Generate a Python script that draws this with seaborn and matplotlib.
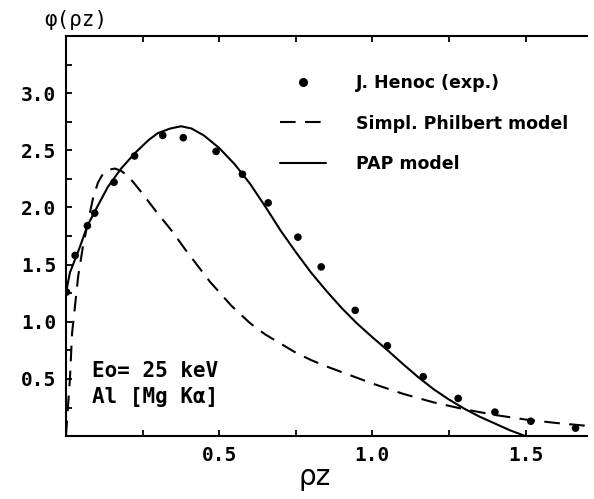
import numpy as np
import pandas as pd
import matplotlib
matplotlib.use("Agg")
import matplotlib.pyplot as plt
from matplotlib.lines import Line2D
import seaborn as sns

# experimental points (J. Henoc)
exp_x = [0.002, 0.03, 0.07, 0.094, 0.157, 0.224, 0.316, 0.383, 0.49, 0.576,
         0.66, 0.757, 0.833, 0.944, 1.049, 1.166, 1.28, 1.40, 1.517, 1.663]
exp_y = [1.26, 1.58, 1.84, 1.95, 2.22, 2.45, 2.63, 2.61, 2.49, 2.29,
         2.04, 1.74, 1.48, 1.10, 0.79, 0.52, 0.33, 0.21, 0.13, 0.07]

# simplified Philibert model (dashed)
phil_x = [0.0, 0.013, 0.02, 0.03, 0.04, 0.055, 0.07, 0.09, 0.105, 0.12, 0.14,
          0.16, 0.18, 0.2, 0.22, 0.25, 0.29, 0.35, 0.39, 0.47, 0.54, 0.6, 0.65,
          0.7, 0.75, 0.8, 0.85, 0.9, 1.0, 1.1, 1.2, 1.3, 1.4, 1.5, 1.6, 1.7]
phil_y = [0.0, 0.5, 0.9, 1.15, 1.4, 1.65, 1.85, 2.10, 2.22, 2.29, 2.33,
          2.34, 2.32, 2.28, 2.22, 2.12, 1.98, 1.78, 1.63, 1.35, 1.14, 0.99, 0.89,
          0.81, 0.73, 0.665, 0.61, 0.56, 0.46, 0.37, 0.295, 0.235, 0.185, 0.145,
          0.115, 0.09]

# PAP model (solid)
pap_x = [0.0, 0.013, 0.045, 0.07, 0.105, 0.137, 0.18, 0.227, 0.27, 0.3, 0.34,
         0.376, 0.41, 0.45, 0.5, 0.55, 0.6, 0.65, 0.7, 0.75, 0.8, 0.85, 0.9,
         0.95, 1.0, 1.05, 1.1, 1.15, 1.2, 1.25, 1.3, 1.35, 1.4, 1.45, 1.5]
pap_y = [1.25, 1.43, 1.65, 1.84, 2.02, 2.18, 2.34, 2.48, 2.59, 2.65, 2.69,
         2.71, 2.69, 2.63, 2.52, 2.38, 2.21, 2.01, 1.80, 1.61, 1.43, 1.27, 1.12,
         0.985, 0.865, 0.75, 0.63, 0.515, 0.41, 0.32, 0.24, 0.17, 0.11, 0.05, 0.0]

labels = ["J. Henoc (exp.)", "Simpl. Philbert model", "PAP model"]

sns.set_style("ticks", {"text.color": "black", "axes.labelcolor": "black",
                        "xtick.color": "black", "ytick.color": "black",
                        "axes.edgecolor": "black"})
mono = "DejaVu Sans Mono"
dash = (0, (7.5, 4.5))

fig = plt.figure(figsize=(5.94, 4.99), dpi=100)
ax = fig.add_axes([0.111, 0.126, 0.877, 0.802])

sns.lineplot(x=phil_x, y=phil_y, ax=ax, color="black", lw=1.5,
             linestyle=dash, sort=False)
sns.lineplot(x=pap_x, y=pap_y, ax=ax, color="black", lw=1.5, sort=False)
sns.scatterplot(x=exp_x, y=exp_y, ax=ax, color="black", s=30, edgecolor="none")

ax.set_xlim(0, 1.7)
ax.set_ylim(0, 3.5)
ax.set_xticks([0.5, 1.0, 1.5])
ax.set_xticks([0.25, 0.75, 1.25], minor=True)
ax.set_yticks([0.5, 1.0, 1.5, 2.0, 2.5, 3.0])
ax.set_yticks([0.25, 0.75, 1.25, 1.75, 2.25, 2.75, 3.25], minor=True)
ax.tick_params(which="both", direction="in", length=4, width=1.3,
               top=True, right=False, labelsize=14, pad=7, colors="black")
for lab in ax.get_xticklabels() + ax.get_yticklabels():
    lab.set_family(mono)
    lab.set_weight("bold")

ax.spines["right"].set_visible(False)
for s in ["left", "bottom", "top"]:
    ax.spines[s].set_linewidth(1.5)

ax.set_xlabel("ρz", fontsize=20, color="black")
ax.xaxis.label.set_va("center")
ax.xaxis.set_label_coords(0.478, -0.103)
ax.set_ylabel("")
fig.text(0.075, 0.96, "φ(ρz)", fontsize=15, family=mono, color="black",
         ha="left", va="center")

ax.text(0.05, 0.13, "Eo= 25 keV\nAl [Mg Kα]", transform=ax.transAxes,
        fontsize=15, family=mono, weight="bold", color="black",
        ha="left", va="center", linespacing=1.35)

handles = [
    Line2D([], [], color="black", marker="o", linestyle="none", markersize=5.5),
    Line2D([], [], color="black", lw=1.5, linestyle=dash),
    Line2D([], [], color="black", lw=1.5),
]
leg = ax.legend(handles, labels, loc="upper left", bbox_to_anchor=(0.41, 0.905),
                frameon=False, borderpad=0, borderaxespad=0, handlelength=2.65,
                handletextpad=1.75, labelspacing=1.3,
                prop={"size": 12.5, "weight": "bold"})
for t in leg.get_texts():
    t.set_color("black")

fig.savefig("out.png", dpi=100)
